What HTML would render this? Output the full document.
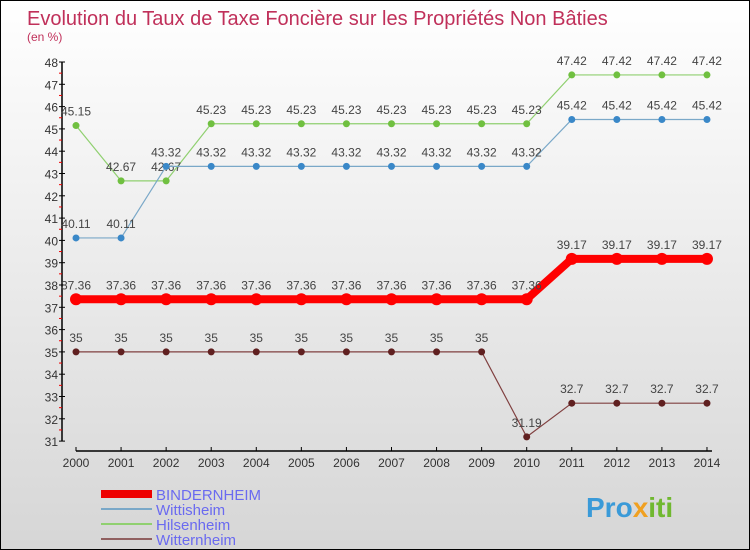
<!DOCTYPE html>
<html><head><meta charset="utf-8"><style>
body{margin:0}
#c{width:748px;height:548px;border:1px solid #000;background:linear-gradient(#fff,#d6d6d6);position:relative;font-family:"Liberation Sans",sans-serif;overflow:hidden}
</style></head><body>
<div id="c">
<svg width="748" height="548" xmlns="http://www.w3.org/2000/svg" id="svg">
<text x="26" y="24" font-size="20" fill="#c0305a">Evolution du Taux de Taxe Foncière sur les Propriétés Non Bâties</text>
<text x="26" y="40" font-size="12" fill="#c0305a">(en %)</text>
<g id="axes"></g><g id="series"></g>
<g>
<rect x="100" y="489" width="51" height="8" fill="#e00"/>
<text x="155" y="499" font-size="15" fill="#6a6af0">BINDERNHEIM</text>
<rect x="100" y="507" width="51" height="2" fill="#7aa8c8"/>
<text x="155" y="514" font-size="15" fill="#6a6af0">Wittisheim</text>
<rect x="100" y="522" width="51" height="2" fill="#90d070"/>
<text x="155" y="529" font-size="15" fill="#6a6af0">Hilsenheim</text>
<rect x="100" y="537" width="51" height="2" fill="#906060"/>
<text x="155" y="544" font-size="15" fill="#6a6af0">Witternheim</text>
</g>
<text x="585" y="516" font-size="28" font-weight="bold" fill="#3a9ad8">Pro<tspan fill="#f0a020">x</tspan><tspan fill="#70b830">iti</tspan></text>
</svg>
</div>
<script>
const years=[2000,2001,2002,2003,2004,2005,2006,2007,2008,2009,2010,2011,2012,2013,2014];
const yTicks=[31,32,33,34,35,36,37,38,39,40,41,42,43,44,45,46,47,48];
const bindernheim=[37.36,37.36,37.36,37.36,37.36,37.36,37.36,37.36,37.36,37.36,37.36,39.17,39.17,39.17,39.17];
const wittisheim=[40.11,40.11,43.32,43.32,43.32,43.32,43.32,43.32,43.32,43.32,43.32,45.42,45.42,45.42,45.42];
const hilsenheim=[45.15,42.67,42.67,45.23,45.23,45.23,45.23,45.23,45.23,45.23,45.23,47.42,47.42,47.42,47.42];
const witternheim=[35,35,35,35,35,35,35,35,35,35,31.19,32.7,32.7,32.7,32.7];
const NS="http://www.w3.org/2000/svg";
const x=i=>75+i*45.07;
const y=v=>61+(48-v)*22.3;
function mk(tag,attrs,parent){const e=document.createElementNS(NS,tag);for(const k in attrs)e.setAttribute(k,attrs[k]);parent.appendChild(e);return e;}
const ax=document.getElementById('axes');
const yl=mk('line',{x1:61,y1:y(48),x2:61,y2:y(31),stroke:'#000','stroke-width':1.5},ax);


yTicks.forEach(t=>{
 mk('line',{x1:58,x2:64,y1:y(t),y2:y(t),stroke:'#000'},ax);
 if(t<48)mk('line',{x1:58,x2:61,y1:y(t+0.5),y2:y(t+0.5),stroke:'#e00'},ax);
 const tx=mk('text',{x:57,y:y(t)+5,'font-size':12,fill:'#333','text-anchor':'end'},ax);tx.textContent=t;
 
 
});
const xl=mk('line',{x1:75,y1:450,x2:x(14)+5,y2:450,stroke:'#000','stroke-width':1.5},ax);


years.forEach((yr,i)=>{
 mk('line',{x1:x(i),x2:x(i),y1:446,y2:450,stroke:'#000'},ax);
 const tx=mk('text',{x:x(i),y:466,'font-size':12,fill:'#333','text-anchor':'middle'},ax);tx.textContent=yr;
 
 
});
const sg=document.getElementById('series');
function series(vals,name,color,dot,w,r,fmt){
 const g=mk('g',{},sg);
 
 
 const pl=mk('polyline',{points:vals.map((v,i)=>x(i)+','+y(v)).join(' '),fill:'none',stroke:color,'stroke-width':w},g);
 
 
 vals.forEach((v,i)=>{
  const c=mk('circle',{cx:x(i),cy:y(v),r:r,fill:dot},g);
  
  
  const t=mk('text',{x:x(i),y:y(v)-10,'font-size':12,fill:'#444','text-anchor':'middle'},g);
  t.textContent=String(v);
  
  
 });
}
series(witternheim,'witternheim','#804040','#602020',1.2,3.5);
series(hilsenheim,'hilsenheim','#90d070','#70c040',1.2,3.5);
series(wittisheim,'wittisheim','#7aa8c8','#3a88c8',1.2,3.5);
series(bindernheim,'bindernheim','#f00','#f00',8,6);
</script>
</body></html>
